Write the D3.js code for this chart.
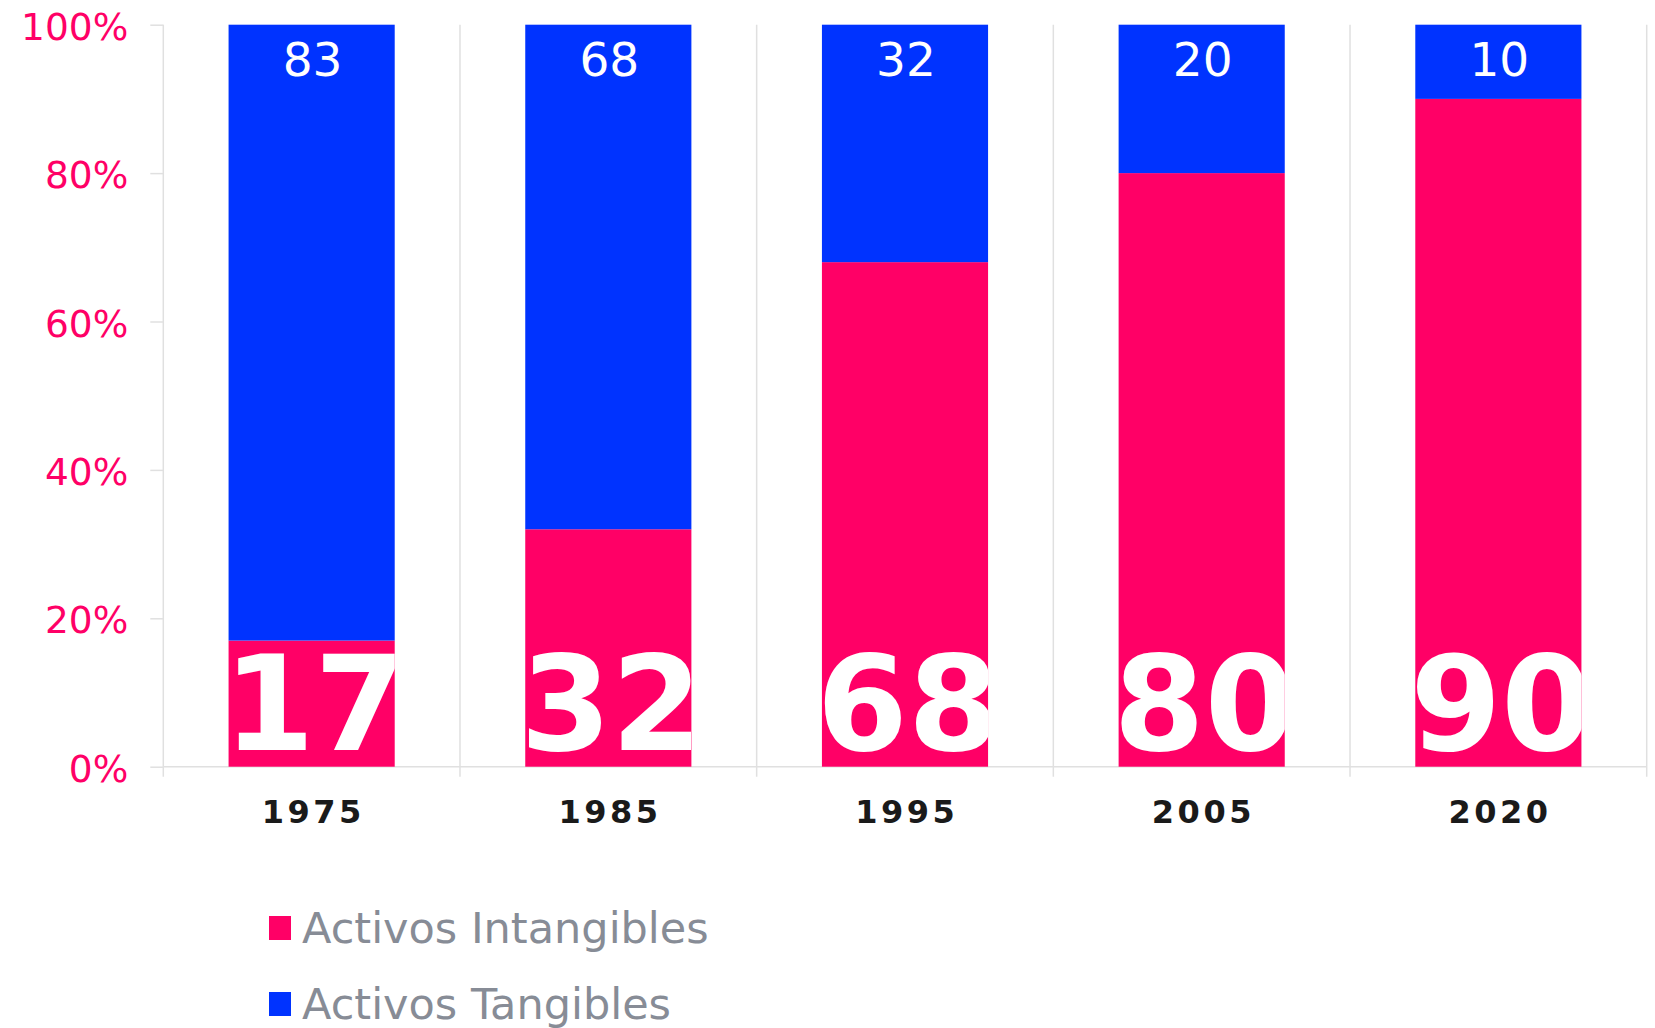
<!DOCTYPE html>
<html>
<head>
<meta charset="utf-8">
<script src="https://cdn.jsdelivr.net/npm/d3@7"></script>
<style>
  body { margin: 0; background: #fff; }
  svg { display: block; font-family: "DejaVu Sans", Verdana, sans-serif; }
</style>
</head>
<body>
<script>
// datos del gráfico
const years = ["1975", "1985", "1995", "2005", "2020"];
const intangibles = [17, 32, 68, 80, 90];
const tangibles = [83, 68, 32, 20, 10];
const yTicks = [0, 20, 40, 60, 80, 100];
const seriesNames = ["Activos Intangibles", "Activos Tangibles"];

const pink = "#ff0066";
const blue = "#0033ff";
const grid = "#e0e0e0";

const width = 1655;
const height = 1028;
const plotLeft = 163.3, plotRight = 1646.7, plotTop = 24.7, plotBottom = 766.7;

const svg = d3.select("body").append("svg")
  .attr("width", width)
  .attr("height", height);

const x = d3.scaleBand().domain(years).range([plotLeft, plotRight]).padding(0);
const y = d3.scaleLinear().domain([0, 100]).range([plotBottom, plotTop]);
const barW = x.bandwidth() * 0.56;
const barX = (d) => x(d) + (x.bandwidth() - barW) / 2;

// rejilla vertical y ejes
const bounds = years.map((d) => x(d)).concat([plotRight]);
svg.append("g")
  .selectAll("line")
  .data(bounds)
  .enter()
  .append("line")
  .attr("x1", (d) => d).attr("x2", (d) => d)
  .attr("y1", plotTop).attr("y2", plotBottom + 10)
  .attr("stroke", grid).attr("stroke-width", 1.5);

svg.append("line")
  .attr("x1", plotLeft).attr("x2", plotRight)
  .attr("y1", plotBottom).attr("y2", plotBottom)
  .attr("stroke", grid).attr("stroke-width", 1.5);

// eje Y
const yAxis = svg.append("g")
  .attr("transform", `translate(${plotLeft},0)`)
  .call(d3.axisLeft(y).tickValues(yTicks).tickFormat((d) => d + "%").tickSize(13).tickPadding(22));
yAxis.select(".domain").remove();
yAxis.selectAll(".tick line").attr("stroke", grid).attr("stroke-width", 1.5);
yAxis.selectAll(".tick text")
  .attr("fill", pink)
  .attr("font-size", 37.5)
  .attr("font-family", "DejaVu Sans, sans-serif")
  .attr("dy", "0.39em");

// clips para las etiquetas grandes
const defs = svg.append("defs");
years.forEach((yr, i) => {
  defs.append("clipPath").attr("id", "clip" + i)
    .append("rect")
    .attr("x", barX(yr)).attr("width", barW)
    .attr("y", y(intangibles[i])).attr("height", plotBottom - y(intangibles[i]));
});

// barras apiladas
svg.append("g")
  .selectAll("rect")
  .data(years)
  .enter()
  .append("rect")
  .attr("x", (d) => barX(d))
  .attr("width", barW)
  .attr("y", (d, i) => y(intangibles[i]))
  .attr("height", (d, i) => plotBottom - y(intangibles[i]))
  .attr("fill", pink);

svg.append("g")
  .selectAll("rect")
  .data(years)
  .enter()
  .append("rect")
  .attr("x", (d) => barX(d))
  .attr("width", barW)
  .attr("y", (d, i) => y(intangibles[i] + tangibles[i]))
  .attr("height", (d, i) => y(intangibles[i]) - y(intangibles[i] + tangibles[i]))
  .attr("fill", blue);

// etiquetas de valores
svg.append("g")
  .selectAll("text")
  .data(years)
  .enter()
  .append("text")
  .attr("x", (d) => x(d) + x.bandwidth() / 2 + 1)
  .attr("y", (d, i) => y(intangibles[i] + tangibles[i]) + 51)
  .attr("text-anchor", "middle")
  .attr("fill", "#fff")
  .attr("font-size", 47)
  .text((d, i) => tangibles[i]);

svg.append("g")
  .selectAll("text")
  .data(years)
  .enter()
  .append("text")
  .attr("clip-path", (d, i) => `url(#clip${i})`)
  .attr("x", (d) => x(d) + x.bandwidth() / 2 + 3)
  .attr("y", plotBottom - 17)
  .attr("text-anchor", "middle")
  .attr("fill", "#fff")
  .attr("font-size", 131)
  .attr("font-weight", "bold")
  .text((d, i) => intangibles[i]);

// eje X
svg.append("g")
  .selectAll("text")
  .data(years)
  .enter()
  .append("text")
  .attr("x", (d) => x(d) + x.bandwidth() / 2 + 1.7)
  .attr("y", 822.7)
  .attr("text-anchor", "middle")
  .attr("fill", "#1a1a1a")
  .attr("font-size", 32)
  .attr("font-weight", "bold")
  .attr("letter-spacing", 3.5)
  .text((d) => d);

// leyenda
const legend = svg.append("g")
  .selectAll("g")
  .data(seriesNames)
  .enter()
  .append("g")
  .attr("transform", (d, i) => `translate(269,${916 + i * 76})`);
legend.append("rect")
  .attr("width", 22).attr("height", 24)
  .attr("fill", (d, i) => (i === 0 ? pink : blue));
legend.append("text")
  .attr("x", 33).attr("y", 27.3)
  .attr("fill", "#878c96")
  .attr("font-size", 43)
  .text((d) => d);
</script>
</body>
</html>
